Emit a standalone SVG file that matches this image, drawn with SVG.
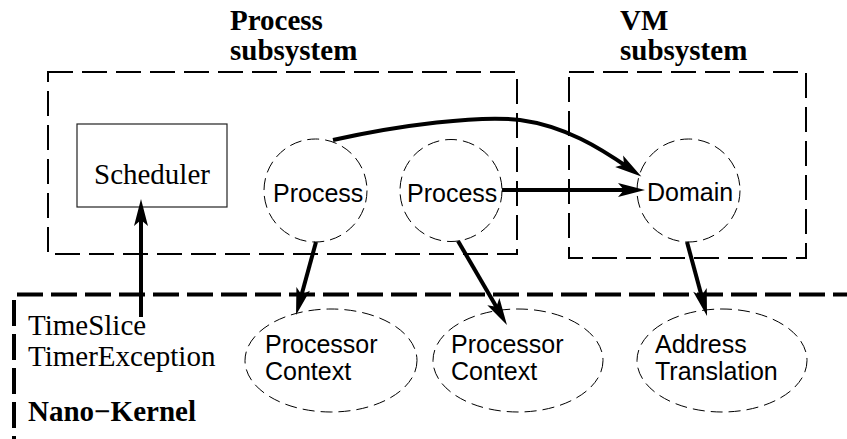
<svg xmlns="http://www.w3.org/2000/svg" width="847" height="439" viewBox="0 0 847 439">
<style>
.serif{font-family:"Liberation Serif","Times New Roman",serif;font-size:29px;fill:#000}
.bold{font-weight:bold}
.sans{font-family:"Liberation Sans",Arial,sans-serif;font-size:25px;fill:#000}
.box{fill:none;stroke:#000;stroke-width:2;stroke-dasharray:25 9}
.kern{fill:none;stroke:#000;stroke-width:4;stroke-dasharray:26 8}
.node{fill:none;stroke:#000;stroke-width:1;stroke-dasharray:12 6}
.arr{fill:none;stroke:#000;stroke-width:4;marker-end:url(#ah)}
</style>
<defs>
<marker id="ah" markerUnits="userSpaceOnUse" viewBox="0 -8 30 16" markerWidth="30" markerHeight="16" refX="12" refY="0" orient="auto" overflow="visible">
<path d="M27,0 L0,-7 L6,0 L0,7 Z" fill="#000"/>
</marker>
</defs>
<g id="process-subsystem">
<rect class="box" x="48" y="72" width="469" height="182"/>
<text class="serif bold" x="230" y="30">Process</text>
<text class="serif bold" x="230" y="60">subsystem</text>
</g>
<g id="vm-subsystem">
<rect class="box" x="569" y="72" width="237" height="186"/>
<text class="serif bold" x="620" y="30">VM</text>
<text class="serif bold" x="620" y="60">subsystem</text>
</g>
<g id="nano-kernel">
<line class="kern" x1="17" y1="294.5" x2="847" y2="294.5"/>
<line class="kern" x1="14" y1="300" x2="14" y2="439"/>
<text class="serif" x="28" y="335">TimeSlice</text>
<text class="serif" x="28" y="366">TimerException</text>
<text class="serif bold" x="28" y="421">Nano−Kernel</text>
</g>
<g id="scheduler">
<rect x="77" y="124" width="150" height="83" fill="none" stroke="#222" stroke-width="1.2"/>
<text class="serif" x="94" y="184">Scheduler</text>
</g>
<g id="process1">
<circle class="node" cx="315.5" cy="190.5" r="51.5"/>
<text class="sans" x="273" y="202">Process</text>
</g>
<g id="process2">
<circle class="node" cx="451" cy="190.5" r="51"/>
<text class="sans" x="407" y="202">Process</text>
</g>
<g id="domain">
<circle class="node" cx="688.5" cy="190.5" r="51.5"/>
<text class="sans" x="647" y="201">Domain</text>
</g>
<g id="processor-context1">
<ellipse class="node" cx="331" cy="360.5" rx="86" ry="51.5"/>
<text class="sans" x="265" y="353">Processor</text>
<text class="sans" x="265" y="380">Context</text>
</g>
<g id="processor-context2">
<ellipse class="node" cx="518" cy="360.5" rx="85" ry="51.5"/>
<text class="sans" x="451" y="353">Processor</text>
<text class="sans" x="451" y="380">Context</text>
</g>
<g id="address-translation">
<ellipse class="node" cx="722" cy="360.5" rx="85" ry="51.5"/>
<text class="sans" x="655" y="353">Address</text>
<text class="sans" x="655" y="380">Translation</text>
</g>
<g id="connectors">
<path class="arr" d="M141,317 L141,214"/>
<path class="arr" d="M502,190 L630,190"/>
<path class="arr" d="M333,140 C400,125 480,115 520,120 C565,126 600,148 629,168"/>
<path class="arr" d="M316,242 L300,300.5"/>
<path class="arr" d="M458,241 L499.4,312"/>
<path class="arr" d="M687,242 L703.1,301.5"/>
</g>
</svg>
